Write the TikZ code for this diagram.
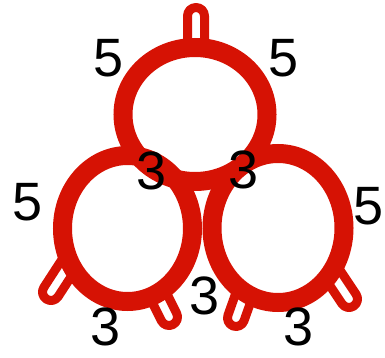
\documentclass[tikz,border=0pt]{standalone}
\usepackage{fontspec}
\setmainfont{Liberation Sans}
\definecolor{tatred}{RGB}{214,18,4}
\newcommand{\countfont}{\fontsize{54}{54}\selectfont}
% picot: arc centre x, y, direction, leg length
\newcommand{\picot}[4]{\draw [picot,shift={(#1,#2)},rotate=#3] (-#4,-8.5) -- (0,-8.5) arc [start angle=-90,end angle=90,radius=8.5] -- (-#4,8.5);}
\begin{document}
\begin{tikzpicture}[x=1pt,y=-1pt,
    ring/.style={draw=tatred,line width=19pt},
    picot/.style={draw=tatred,line width=9pt,line join=round},
    count/.style={font=\countfont,inner sep=0pt,text=black}]
    \useasboundingbox (0,0) rectangle (385,358);
    \coordinate (top) at (195,114.5);
    \coordinate (left) at (127.5,228.5);
    \coordinate (right) at (278,228);
    \picot{196}{16}{90}{32}
    \picot{51}{292}{237}{36}
    \picot{169}{317}{296.6}{28}
    \picot{236}{318}{250.4}{28}
    \picot{349}{299}{303.7}{33}
    \draw [ring] (top) ellipse [x radius=72,y radius=67];
    \draw [ring] (left) ellipse [x radius=65,y radius=73];
    \draw [ring] (right) ellipse [x radius=66,y radius=74.5];
    \node [count] (five-tl) at (109,58) {5};
    \node [count] (five-tr) at (284,58) {5};
    \node [count] (five-l) at (28,202) {5};
    \node [count] (five-r) at (369,206) {5};
    \node [count] (three-tl) at (152,171) {3};
    \node [count] (three-tr) at (244,170) {3};
    \node [count] (three-c) at (205,296) {3};
    \node [count] (three-bl) at (106,327) {3};
    \node [count] (three-br) at (299,327) {3};
\end{tikzpicture}
\end{document}
